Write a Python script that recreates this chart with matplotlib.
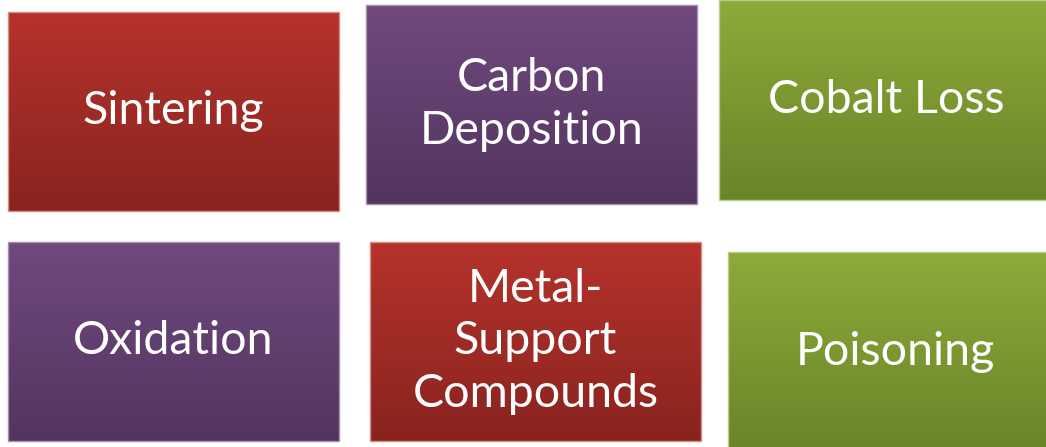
import numpy as np
import matplotlib
matplotlib.use("Agg")
import matplotlib.pyplot as plt
from matplotlib.patches import Rectangle
from matplotlib.colors import LinearSegmentedColormap

# labels of the six boxes, row by row
labels = ["Sintering", "Carbon\nDeposition", "Cobalt Loss",
          "Oxidation", "Metal-\nSupport\nCompounds", "Poisoning"]
themes = ["red", "purple", "green", "purple", "red", "green"]

# layout of the boxes in pixels: left, top, width, height
boxes = [(8, 12, 331, 199), (366, 5, 331, 199), (719, 0, 334, 200),
         (8, 242, 331, 199), (370, 242, 331, 199), (728, 252, 334, 200)]

# gradient colours (top, bottom) and thin border colour
palette = {
    "red": ("#b6332c", "#89231f", "#d98a86"),
    "purple": ("#70497f", "#52355f", "#a88db3"),
    "green": ("#8cab3a", "#6a8429", "#b9cd8a"),
}

W, H = 1046, 447
fig = plt.figure(figsize=(W / 100, H / 100), dpi=100)
ax = fig.add_axes([0, 0, 1, 1])
ax.set_xlim(0, W)
ax.set_ylim(H, 0)
ax.axis("off")

grad = np.linspace(0, 1, 256).reshape(-1, 1)

for lab, th, (x, y, w, h) in zip(labels, themes, boxes):
    top, bot, edge = palette[th]
    cmap = LinearSegmentedColormap.from_list(th, [top, bot])
    im = ax.imshow(grad, cmap=cmap, aspect="auto",
                   extent=[x, x + w, y + h, y], zorder=1)
    rect = Rectangle((x, y), w, h, facecolor="none", edgecolor=edge,
                     linewidth=1.0, zorder=2)
    ax.add_patch(rect)
    im.set_clip_path(rect)
    ax.text(x + w / 2, y + h / 2, lab, color="white", fontsize=33.5,
            family="Lato", ha="center", va="center", linespacing=1.32,
            zorder=3)

ax.set_xlim(0, W)
ax.set_ylim(H, 0)
fig.savefig("out.png", dpi=100)
